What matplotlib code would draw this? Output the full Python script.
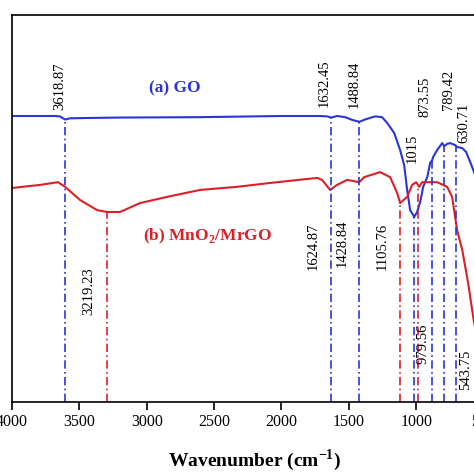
import matplotlib
matplotlib.use('Agg')
import matplotlib.pyplot as plt

plt.rcParams['font.family'] = ['Liberation Serif', 'DejaVu Serif']
plt.rcParams['mathtext.fontset'] = 'custom'
plt.rcParams['mathtext.rm'] = 'Liberation Serif'
plt.rcParams['mathtext.bf'] = 'Liberation Serif:bold'

# (a) GO spectrum, transmittance (a.u.)
go_wn = [4000, 3681, 3644, 3606, 3569, 3421, 3198, 2604, 2010, 1713, 1661, 1631,
         1586, 1527, 1475, 1423, 1371, 1305, 1253, 1215, 1163, 1119, 1089, 1067,
         1045, 1022, 1015, 993, 970, 948, 918, 896, 881, 874, 844, 807, 792, 770,
         748, 711, 696, 658, 629, 599, 570, 540, 488, 406]
go_t = [73.9, 73.9, 73.8, 73.0, 73.3, 73.4, 73.5, 73.6, 73.9, 73.9, 73.8, 73.5,
        73.9, 73.6, 72.9, 72.4, 73.1, 73.8, 73.6, 72.1, 69.5, 65.1, 61.2, 54.8,
        49.6, 48.3, 47.8, 49.1, 51.7, 55.6, 58.1, 61.8, 62.5, 63.3, 65.1, 66.9, 66.1, 66.7,
        66.9, 66.4, 65.9, 65.6, 64.6, 62.0, 59.4, 56.1, 50.9, 45.7]

# (b) MnO2/MrGO spectrum
mn_wn = [4000, 3792, 3658, 3606, 3495, 3369, 3295, 3198, 3050, 2849, 2604, 2329,
         2084, 1735, 1698, 1639, 1587, 1512, 1423, 1386, 1267, 1193, 1141, 1119,
         1067, 1030, 1000, 978, 955, 844, 770, 733, 696, 658, 614, 577, 540, 451]
mn_t = [55.3, 56.1, 56.8, 55.6, 52.2, 49.6, 49.1, 49.1, 51.4, 53.0, 54.8, 55.6,
        56.6, 57.9, 57.4, 54.8, 56.1, 57.4, 56.8, 58.1, 59.4, 58.1, 54.0, 51.4,
        53.0, 56.1, 56.8, 55.6, 56.8, 56.8, 55.6, 53.0, 44.4, 39.3, 30.7, 22.0, 14.7, 8.3]

# marker lines (position, top of line)
go_lines = [3606, 1631, 1423, 1015, 881, 792, 703]
go_line_top = [73.0, 73.5, 72.4, 47.8, 62.5, 66.1, 66.2]
mn_lines = [3295, 1119, 985]
mn_line_top = [49.1, 51.4, 55.9]

# peak labels: text, x, y
go_labels = ['3618.87', '1632.45', '1488.84', '873.55', '789.42', '630.71', '1015']
go_label_x = [3644, 1683, 1460, 933, 762, 644, 1030]
go_label_y = [75.5, 76.2, 76.0, 73.6, 75.5, 66.9, 61.8]
mn_labels = ['1624.87', '1428.84', '1105.76', '3219.23', '979.56', '543.75']
mn_label_x = [1765, 1550, 1253, 3428, 948, 636]
mn_label_y = [40.2, 41.0, 40.2, 28.7, 15.1, 8.3]

xticks = [4000, 3500, 3000, 2500, 2000, 1500, 1000, 500]

blue = '#2a35d8'
red = '#dd1f2a'

fig = plt.figure(figsize=(4.74, 4.74), dpi=100)
ax = fig.add_axes([12 / 474, 72 / 474, 485 / 474, 387 / 474])

ax.plot(go_wn, go_t, color=blue, lw=1.5)
ax.plot(mn_wn, mn_t, color=red, lw=1.5)

dash = (0, (5, 2, 1, 2))
for x, top in zip(go_lines, go_line_top):
    ax.plot([x, x], [0, top], color=blue, lw=1.2, linestyle=dash)
for x, top in zip(mn_lines, mn_line_top):
    ax.plot([x, x], [0, top], color=red, lw=1.2, linestyle=dash)

for txt, x, y in zip(go_labels, go_label_x, go_label_y):
    ax.text(x, y, txt, rotation=90, ha='center', va='bottom', fontsize=10.5)
for txt, x, y in zip(mn_labels, mn_label_x, mn_label_y):
    ax.text(x, y, txt, rotation=90, ha='center', va='center', fontsize=10.5)

ax.text(2790, 81.1, '(a) GO', color=blue, fontsize=12.5, fontweight='bold',
        ha='center', va='center')
ax.text(2545, 42.9, r'(b) MnO$_\mathbf{2}$/MrGO', color=red, fontsize=12.5,
        fontweight='bold', ha='center', va='center')

ax.set_xlim(4000, 400)
ax.set_ylim(0, 100)
ax.set_xticks(xticks)
ax.set_yticks([])
ax.tick_params(axis='x', direction='out', length=6, width=1.2, labelsize=11.5, pad=3)
for s in ax.spines.values():
    s.set_linewidth(1.2)
ax.set_xlabel(r'Wavenumber (cm$^{\mathbf{-1}}$)', fontsize=14, fontweight='bold',
              labelpad=12)

fig.savefig('out.png', dpi=100)
